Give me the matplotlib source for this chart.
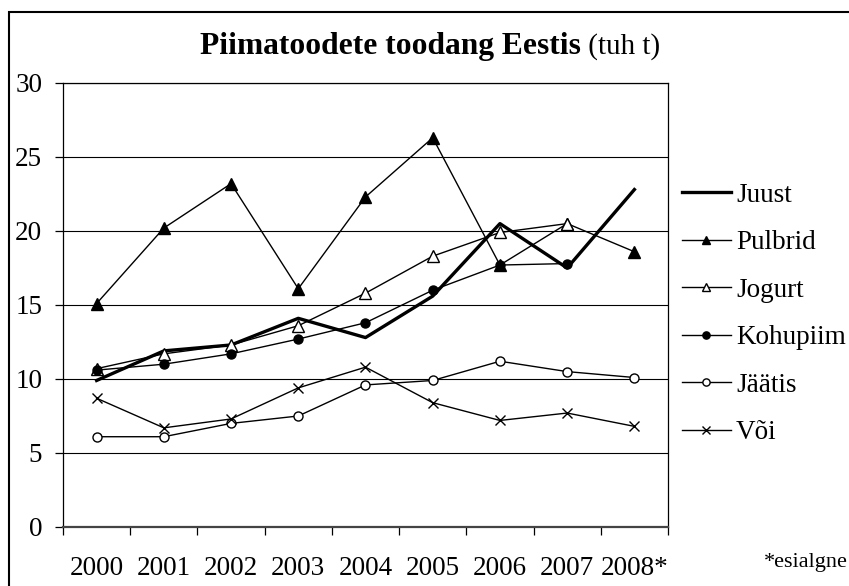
import numpy as np
import matplotlib
matplotlib.use("Agg")
import matplotlib.pyplot as plt
from matplotlib.patches import Rectangle

years = ['2000', '2001', '2002', '2003', '2004', '2005', '2006', '2007', '2008*']
juust = [9.9, 11.9, 12.3, 14.1, 12.8, 15.6, 20.5, 17.5, 22.8]
pulbrid = [15.1, 20.2, 23.2, 16.1, 22.3, 26.3, 17.7, 20.5, 18.6]
jogurt = [10.7, 11.7, 12.3, 13.6, 15.8, 18.3, 19.9, 20.5, np.nan]
kohupiim = [10.6, 11.0, 11.7, 12.7, 13.8, 16.0, 17.7, 17.8, np.nan]
jaatis = [6.1, 6.1, 7.0, 7.5, 9.6, 9.9, 11.2, 10.5, 10.1]
voi = [8.7, 6.7, 7.3, 9.4, 10.8, 8.4, 7.2, 7.7, 6.8]
yticks = [0, 5, 10, 15, 20, 25, 30]

plt.rcParams['font.family'] = ['Liberation Serif', 'DejaVu Serif']

W, H = 849, 586
fig = plt.figure(figsize=(W / 100, H / 100), dpi=100)
fig.patch.set_facecolor('white')

# outer chart border (extends past right/bottom edge)
fig.patches.append(Rectangle((9 / W, -0.05), 1.1, 1 - 12 / H + 0.05,
                             transform=fig.transFigure, fill=False,
                             edgecolor='black', linewidth=1.5))

ax = fig.add_axes([63 / W, 1 - 527 / H, (668 - 63) / W, (527 - 83) / H])
x = np.arange(len(years))

ax.plot(x, juust, color='black', lw=2.4, label='Juust', zorder=3)
ax.plot(x, pulbrid, color='black', lw=1.0, marker='^', ms=8,
        mfc='black', mec='black', label='Pulbrid', zorder=4)
ax.plot(x, jogurt, color='black', lw=1.0, marker='^', ms=8,
        mfc='white', mec='black', mew=1.0, label='Jogurt', zorder=5)
ax.plot(x, kohupiim, color='black', lw=1.0, marker='o', ms=6.5,
        mfc='black', mec='black', label='Kohupiim', zorder=6)
ax.plot(x, jaatis, color='black', lw=1.0, marker='o', ms=6.5,
        mfc='white', mec='black', mew=1.0, label='Jäätis', zorder=7)
ax.plot(x, voi, color='black', lw=1.0, marker='x', ms=7.5, mew=1.0,
        label='Või', zorder=8)

ax.set_xlim(-0.5, len(years) - 0.5)
ax.set_ylim(0, 30)
ax.set_yticks(yticks)
ax.set_yticklabels([str(v) for v in yticks], fontsize=19.5)
ax.yaxis.grid(True, color='black', lw=0.8)
ax.set_axisbelow(True)

ax.set_xticks(x)
ax.set_xticklabels(years, fontsize=19.5)
ax.set_xticks(np.arange(-0.5, len(years)), minor=True)
ax.tick_params(axis='x', which='major', length=0, pad=21)
ax.tick_params(axis='x', which='minor', length=5.5, width=0.9, direction='out')
ax.tick_params(axis='y', which='major', length=6, width=0.9, direction='out', pad=9)

for s in ['left', 'right', 'top']:
    ax.spines[s].set_color('black')
    ax.spines[s].set_linewidth(0.9)
ax.spines['bottom'].set_color('#444444')
ax.spines['bottom'].set_linewidth(1.6)

# legend
leg = ax.legend(loc='center left', bbox_to_anchor=(682 / W, 1 - 314 / H),
                bbox_transform=fig.transFigure, frameon=False, fontsize=19.5,
                handlelength=1.8, handletextpad=0.2, labelspacing=0.83,
                borderaxespad=0, borderpad=0, markerscale=0.8)

# title
t1 = fig.text(200 / W, 1 - 54 / H, 'Piimatoodete toodang Eestis',
              fontsize=22.7, fontweight='bold', ha='left', va='baseline')
fig.canvas.draw()
bb = t1.get_window_extent()
fig.text(bb.x1 / W, 1 - 54 / H, ' (tuh t)', fontsize=21,
         ha='left', va='baseline')

fig.text(764 / W, 1 - 567 / H, '*esialgne', fontsize=16,
         ha='left', va='baseline')

fig.savefig('out.png', dpi=100)
